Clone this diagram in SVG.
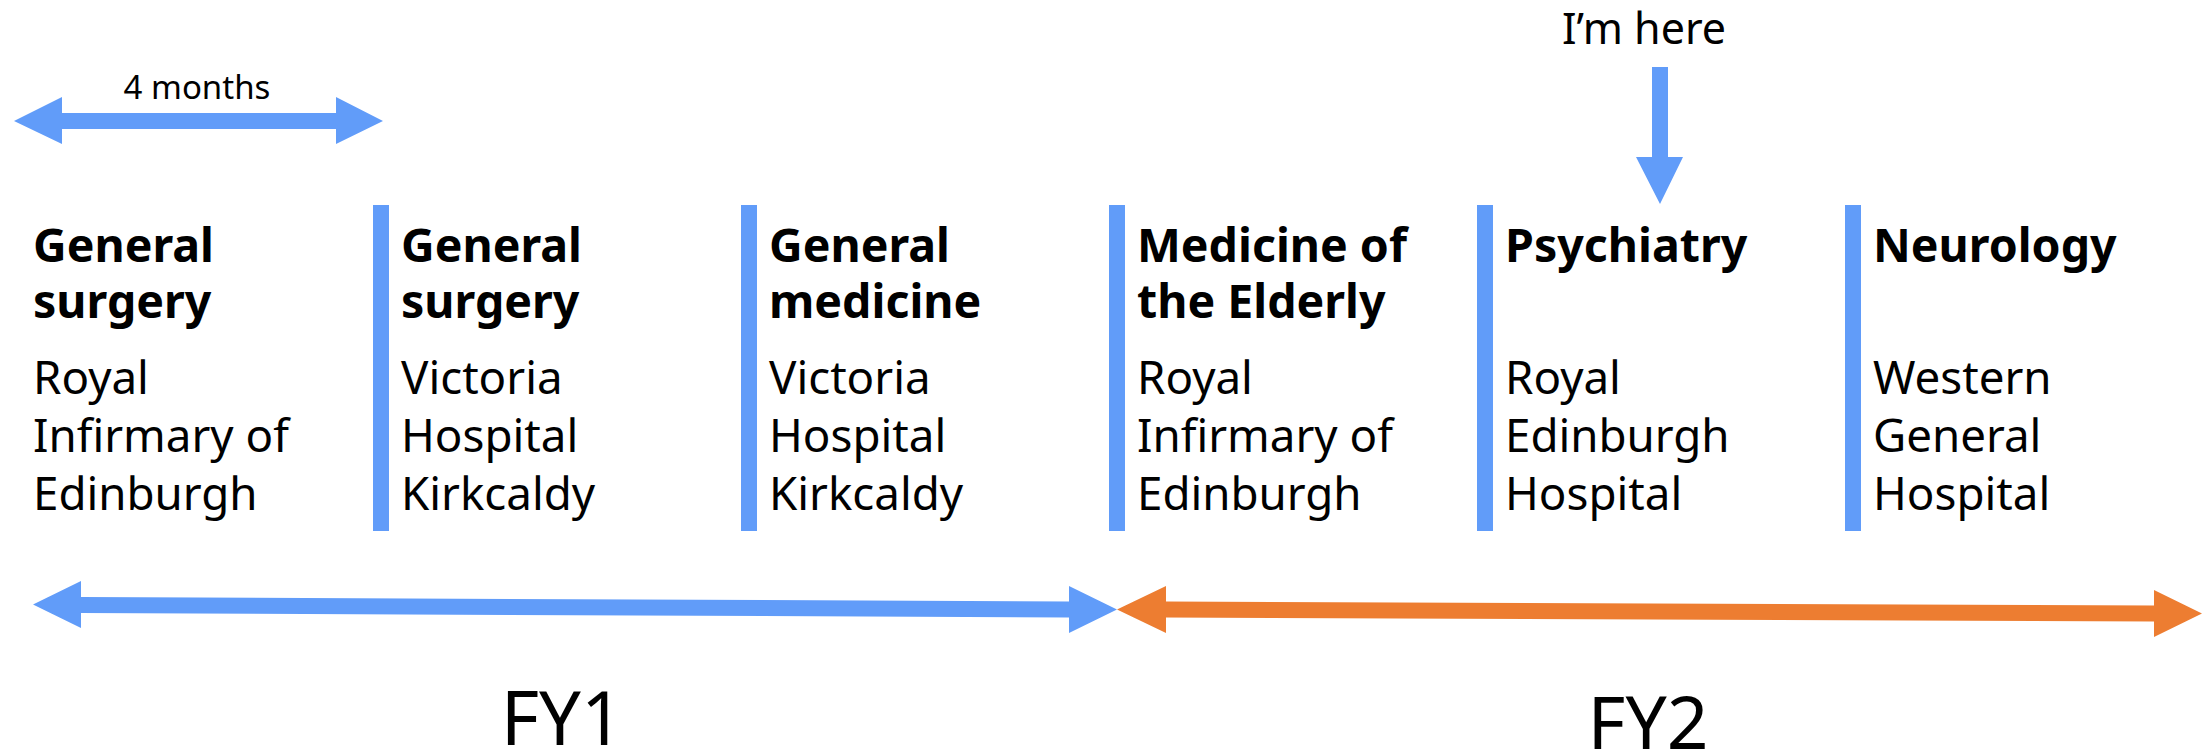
<svg xmlns="http://www.w3.org/2000/svg" width="2211" height="753" viewBox="0 0 2211 753">
<style>
.t{font-family:"Noto Sans","Open Sans",sans-serif;fill:#000}
.h{font-size:46.5px;font-weight:bold}
.b{font-size:45.7px}
.bar{fill:#619cf9}
.blue{fill:#619cf9}
.orange{fill:#ed7d31}
</style>
<rect width="2211" height="753" fill="#fff"/>
<g id="connectors">
<polygon class="blue" points="14,121 62,97 62,113 336,113 336,97 383,121 336,144 336,129 62,129 62,144"/>
<polygon class="blue" points="1652,67 1668,67 1668,157 1683,157 1660,204 1636,157 1652,157"/>
<polygon class="blue" points="33,604.5 81,581 81,597 1069,601.5 1069,586 1117,609.5 1069,633 1069,617.5 81,613 81,628"/>
<polygon class="orange" points="1117,609.5 1166,586 1166,601.5 2154,605.5 2154,590 2202,613.5 2154,637 2154,621.5 1166,617.5 1166,633"/>
</g>
<g id="labels">
<text class="t" x="197" y="99" font-size="33" text-anchor="middle">4 months</text>
<text class="t" x="1644" y="44" font-size="43" text-anchor="middle">I’m here</text>
<text class="t" x="562" y="745" font-size="74" text-anchor="middle">FY1</text>
<text class="t" x="1648" y="749" font-size="73" text-anchor="middle">FY2</text>
</g>
<g id="bars">
<rect class="bar" x="373" y="205" width="16" height="326"/>
<rect class="bar" x="741" y="205" width="16" height="326"/>
<rect class="bar" x="1109" y="205" width="16" height="326"/>
<rect class="bar" x="1477" y="205" width="16" height="326"/>
<rect class="bar" x="1845" y="205" width="16" height="326"/>
</g>
<g id="node1">
<text class="t h" x="33" y="262">General</text>
<text class="t h" x="33" y="318">surgery</text>
<text class="t b" x="33" y="394">Royal</text>
<text class="t b" x="33" y="452">Infirmary of</text>
<text class="t b" x="33" y="510">Edinburgh</text>
</g>
<g id="node2">
<text class="t h" x="401" y="262">General</text>
<text class="t h" x="401" y="318">surgery</text>
<text class="t b" x="401" y="394">Victoria</text>
<text class="t b" x="401" y="452">Hospital</text>
<text class="t b" x="401" y="510">Kirkcaldy</text>
</g>
<g id="node3">
<text class="t h" x="769" y="262">General</text>
<text class="t h" x="769" y="318">medicine</text>
<text class="t b" x="769" y="394">Victoria</text>
<text class="t b" x="769" y="452">Hospital</text>
<text class="t b" x="769" y="510">Kirkcaldy</text>
</g>
<g id="node4">
<text class="t h" x="1137" y="262">Medicine of</text>
<text class="t h" x="1137" y="318">the Elderly</text>
<text class="t b" x="1137" y="394">Royal</text>
<text class="t b" x="1137" y="452">Infirmary of</text>
<text class="t b" x="1137" y="510">Edinburgh</text>
</g>
<g id="node5">
<text class="t h" x="1505" y="262">Psychiatry</text>
<text class="t b" x="1505" y="394">Royal</text>
<text class="t b" x="1505" y="452">Edinburgh</text>
<text class="t b" x="1505" y="510">Hospital</text>
</g>
<g id="node6">
<text class="t h" x="1873" y="262">Neurology</text>
<text class="t b" x="1873" y="394">Western</text>
<text class="t b" x="1873" y="452">General</text>
<text class="t b" x="1873" y="510">Hospital</text>
</g>
</svg>
